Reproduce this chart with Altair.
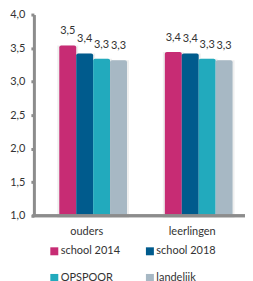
import altair as alt
import pandas as pd

groups = ["ouders", "leerlingen"]
series = ["school 2014", "school 2018", "OPSPOOR", "landelijk"]
colors = ["#C72C74", "#005B8D", "#22AABD", "#A7B8C4"]
values = {
    "ouders": [3.54, 3.42, 3.34, 3.32],
    "leerlingen": [3.44, 3.42, 3.34, 3.32],
}
y_ticks = [1.0, 1.5, 2.0, 2.5, 3.0, 3.5, 4.0]

rows = []
for g in groups:
    for s, v in zip(series, values[g]):
        rows.append({"groep": g, "reeks": s, "waarde": v})
df = pd.DataFrame(rows)
df_groups = pd.DataFrame({"groep": groups})

x = alt.X("groep:N", sort=groups, title=None,
          scale=alt.Scale(paddingInner=0, paddingOuter=0), axis=None)
xo = alt.XOffset("reeks:N", sort=series,
                 scale=alt.Scale(range=[25.5, 93.5], paddingInner=0, paddingOuter=0))
y = alt.Y("waarde:Q", title=None,
          scale=alt.Scale(domain=[1, 4], zero=False, nice=False),
          axis=alt.Axis(values=y_ticks, grid=False, domainColor="#8c8c8c", domainWidth=3,
                        tickColor="#8c8c8c", tickWidth=3, tickSize=3, zindex=1,
                        labelFont="Lato", labelFontSize=11, labelColor="#333333", labelPadding=6,
                        labelExpr="replace(format(datum.value, '.1f'), '.', ',')"))
color = alt.Color("reeks:N", sort=series,
                  scale=alt.Scale(domain=series, range=colors),
                  legend=alt.Legend(title=None, orient="none", legendX=15, legendY=232,
                                    columns=2, direction="horizontal",
                                    symbolType="square", symbolSize=64, symbolStrokeWidth=0,
                                    labelFont="Lato", labelFontSize=11, labelColor="#333333",
                                    labelOffset=1, columnPadding=24, rowPadding=15))

base = alt.Chart(df)

shadow = base.mark_bar(color="#e6e6e6", stroke="#efefef", strokeWidth=4,
                       xOffset=2, yOffset=2).encode(
    x=x, xOffset=xo, y=y, y2=alt.datum(1.0))

bars = base.mark_bar(cornerRadiusTopLeft=2, cornerRadiusTopRight=2).encode(
    x=x, xOffset=xo, y=y, y2=alt.datum(1.0), color=color)

labels = base.transform_calculate(
    lab="replace(format(datum.waarde, '.1f'), '.', ',')"
).mark_text(font="Lato", fontSize=11, color="#333333", dy=-14).encode(
    x=x, xOffset=xo, y=y, text="lab:N")

x_domain = alt.Chart(df_groups).mark_rule(color="#8c8c8c", strokeWidth=3, strokeCap="square").encode(
    x=alt.value(0), x2=alt.value(211), y=alt.value(202))

x_labels = alt.Chart(df_groups).mark_text(
    font="Lato", fontSize=11, color="#333333", baseline="middle"
).encode(x=x, y=alt.value(218), text="groep:N")

chart = alt.layer(shadow, bars, labels, x_domain, x_labels).properties(
    width=212, height=202,
    autosize=alt.AutoSizeParams(type="none"),
    padding={"left": 26, "top": 6, "right": 0, "bottom": 66},
    background="white",
).configure_view(stroke=None)

chart.save("out.html", embed_options={"renderer": "svg", "actions": False})
